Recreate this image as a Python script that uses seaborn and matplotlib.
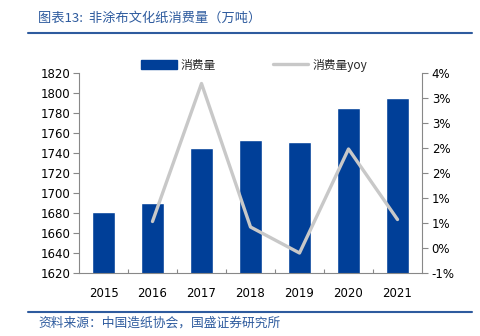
import matplotlib
matplotlib.use("Agg")
import matplotlib.pyplot as plt
import matplotlib.ticker as mticker
from matplotlib.lines import Line2D
from matplotlib.patches import Patch
import numpy as np
import pandas as pd
import seaborn as sns

years = ["2015", "2016", "2017", "2018", "2019", "2020", "2021"]
consumption = [1681, 1690, 1745, 1753, 1751, 1785, 1795]
yoy_years = ["2016", "2017", "2018", "2019", "2020", "2021"]
yoy_pct = [0.53, 3.29, 0.42, -0.10, 1.98, 0.57]

title = "图表13:  非涂布文化纸消费量（万吨）"
source = "资料来源：中国造纸协会，国盛证券研究所"

sns.set_theme(style="white")
plt.rcParams['font.family'] = ['DejaVu Sans', 'Noto Sans CJK SC']

BAR = "#003F98"
LINE = "#C8C8C8"
TBLUE = "#2E5B9E"

fig = plt.figure(figsize=(4.8, 3.36), dpi=100)
ax = fig.add_axes([79/480, 1-273/336, (422-79)/480, 200/336])

df = pd.DataFrame({"year": years, "val": consumption})
sns.barplot(data=df, x="year", y="val", color=BAR, width=0.47, ax=ax, saturation=1)
ax.set_ylim(1620, 1820)
ax.set_yticks(np.arange(1620, 1821, 20))
ax.set_xlim(-0.5, len(years) - 0.5)
ax.set_xlabel("")
ax.set_ylabel("")

ax2 = ax.twinx()
ydf = pd.DataFrame({"x": [years.index(y) for y in yoy_years], "v": [v / 100 for v in yoy_pct]})
sns.lineplot(data=ydf, x="x", y="v", color=LINE, linewidth=2.4, ax=ax2)
ax2.set_ylim(-0.005, 0.035)
ax2.set_yticks(np.arange(-0.005, 0.0351, 0.005))
def fmt(v, pos):
    p = v * 100
    r = int(np.floor(abs(p) + 0.5 + 1e-9)) * (1 if p >= 0 else -1)
    return f"{r}%"
ax2.yaxis.set_major_formatter(mticker.FuncFormatter(fmt))
ax2.set_ylabel("")
ax2.set_xlabel("")
ax2.set_xlim(-0.5, len(years) - 0.5)

for a in (ax, ax2):
    for s in a.spines.values():
        s.set_visible(False)
ax.spines['left'].set_visible(True)
ax.spines['bottom'].set_visible(True)
ax2.spines['right'].set_visible(True)
for s in (ax.spines['left'], ax.spines['bottom'], ax2.spines['right']):
    s.set_color("#888888")
    s.set_linewidth(0.8)

ax.tick_params(axis='y', which='both', left=True, length=4, width=0.8, color="#888888",
               labelsize=8.5, labelcolor="#000000", pad=2)
ax2.tick_params(axis='y', right=True, length=4, width=0.8, color="#888888",
                labelsize=8.5, labelcolor="#000000", pad=3)
ax.set_xticks(range(len(years)))
ax.set_xticklabels(years)
ax.tick_params(axis='x', which='major', bottom=False, labelsize=8.5, labelcolor="#000000", pad=4)
ax.set_xticks(np.arange(0.5, len(years) - 0.5, 1), minor=True)
ax.tick_params(axis='x', which='minor', bottom=True, direction='in', length=3, width=0.8, color="#888888")

handles = [Patch(facecolor=BAR, edgecolor=BAR), Line2D([0], [0], color=LINE, linewidth=2.4)]
fig.legend(handles, ["消费量", "消费量yoy"], loc="center", bbox_to_anchor=(254/480, 1-65/336),
           ncol=2, frameon=False, handlelength=3.0, handleheight=0.9,
           columnspacing=4.8, handletextpad=0.35,
           prop={'family': ['Noto Sans CJK SC', 'DejaVu Sans'], 'size': 8.5})

fig.text(38/480, 1-18/336, title, color=TBLUE, fontsize=9.5, style='italic',
         ha='left', va='center', family=['Noto Sans CJK SC', 'DejaVu Sans'])
fig.add_artist(Line2D([28/480, 472/480], [1-33/336, 1-33/336], color=TBLUE, linewidth=1.5))
fig.add_artist(Line2D([28/480, 472/480], [1-312/336, 1-312/336], color=TBLUE, linewidth=1.5))
fig.text(38/480, 1-323/336, source, color=TBLUE, fontsize=9.2, style='italic',
         ha='left', va='center', family=['Noto Sans CJK SC', 'DejaVu Sans'])

fig.savefig("out.png", dpi=100)
